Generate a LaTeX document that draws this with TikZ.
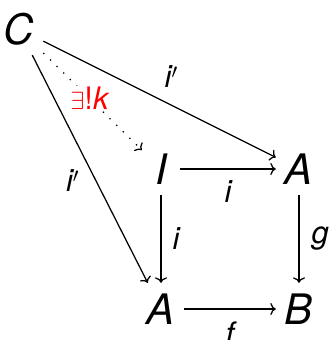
\documentclass[tikz,border=0pt]{standalone}
\usepackage{fontspec}
\setmainfont{TeX Gyre Heros}
\usetikzlibrary{arrows.meta, positioning}

\begin{document}
\begin{tikzpicture}[x=1pt, y=1pt,
    obj/.style={font=\fontsize{42}{48}\selectfont\itshape, inner xsep=9pt,
                inner ysep=5pt, text height=37pt, text depth=5pt, minimum width=38pt},
    lbl/.style={font=\fontsize{31}{36}\selectfont\itshape, inner sep=0pt},
    arr/.style={-{To[length=5.5pt, width=12pt]}, line width=1.25pt},
    uniq/.style={arr, dash pattern=on 1.3pt off 8pt}
  ]
    \useasboundingbox (0,0) rectangle (331,340);

    \node[obj] (I) at (161,171) {I};
    \node[obj, on grid, right=138pt of I] (A1) {A};
    \node[obj, on grid, below=140pt of I] (A2) {A};
    \node[obj, on grid, right=138pt of A2] (B) {B};
    \node[obj, on grid, above left=140pt and 142pt of I] (C) {C};

    \draw[arr] (I) -- node[lbl, midway, below=11pt] {i} (A1);
    \draw[arr] (I) -- node[lbl, midway, right=11pt] {i} (A2);
    \draw[arr] (A1) -- node[lbl, midway, right=12pt] {g} (B);
    \draw[arr] (A2) -- node[lbl, midway, below=12pt] {f} (B);

    \draw[arr] (C) -- node[lbl, pos=0.55, above=17pt] {i$'$} (A1);
    \draw[arr] (C) -- node[lbl, pos=0.55, left=16pt] {i$'$} (A2);
    \draw[uniq] (C) -- node[midway, xshift=-3pt, yshift=3.5pt, fill=white, inner sep=1pt,
        text=red, font=\fontsize{31}{36}\selectfont] {$\exists$!\itshape k} (I);
  \end{tikzpicture}
\end{document}
